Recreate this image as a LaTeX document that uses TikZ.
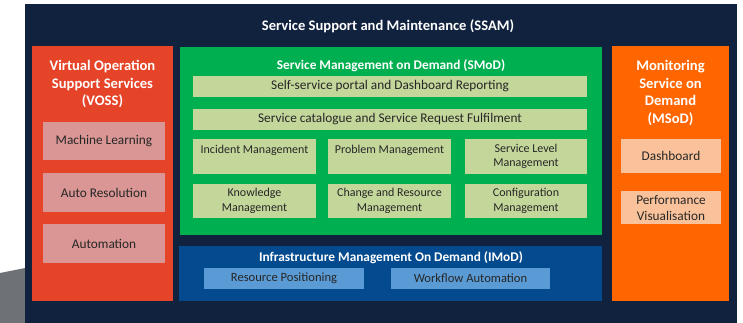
\documentclass[tikz,border=0pt]{standalone}
\usepackage{fontspec}
\setmainfont{Carlito}
\usepackage{xcolor}
\usepackage{tikz}

\definecolor{navy}{HTML}{11223F}
\definecolor{vossred}{HTML}{E64429}
\definecolor{vosspink}{HTML}{D99694}
\definecolor{smodgreen}{HTML}{00B050}
\definecolor{smodlight}{HTML}{C4D79B}
\definecolor{imodblue}{HTML}{044A8F}
\definecolor{imodlight}{HTML}{5B9BD5}
\definecolor{msodorange}{HTML}{FF6600}
\definecolor{msodpeach}{HTML}{F9C29A}
\definecolor{shadowgrey}{HTML}{6E7176}
\definecolor{itemtext}{HTML}{262626}

\begin{document}
\begin{tikzpicture}[x=1pt,y=-1pt,
        panel/.style={rectangle, inner sep=0pt},
        paneltitle/.style={text=white, font=\fontsize{14.6}{17.5}\selectfont\bfseries, align=center},
        subtitle/.style={paneltitle, font=\fontsize{13.3}{16}\selectfont\bfseries},
        item/.style={rectangle, inner sep=0pt, text=itemtext, align=center, font=\fontsize{13.3}{16}\selectfont},
        smallitem/.style={item, font=\fontsize{12}{14.5}\selectfont}]
        \useasboundingbox (0,0) rectangle (743,323);
        \fill[shadowgrey] (0,273) -- (25,268) -- (25,323) -- (0,323) -- cycle;
        % outer frame
        \node[panel, fill=navy, minimum width=712pt, minimum height=319pt] (ssam) at (381,163.5) {};
        \node[paneltitle] (ssamtitle) at (388,26) {Service Support and Maintenance (SSAM)};
        % left column
        \node[panel, fill=vossred, minimum width=141pt, minimum height=255pt] (voss) at (102.5,173.5) {};
        \node[paneltitle] (vosstitle) at (102.5,84) {Virtual Operation\\Support Services\\(VOSS)};
        \node[item, fill=vosspink, minimum width=122pt, minimum height=38pt] (ml) at (104,141) {Machine Learning};
        \node[item, fill=vosspink, minimum width=122pt, minimum height=39pt] (ar) at (104,192.5) {Auto Resolution};
        \node[item, fill=vosspink, minimum width=122pt, minimum height=39pt] (au) at (104,243.5) {Automation};
        % middle column
        \node[panel, fill=smodgreen, minimum width=422pt, minimum height=188pt] (smod) at (391,141) {};
        \node[subtitle] (smodtitle) at (391,66) {Service Management on Demand (SMoD)};
        \node[item, fill=smodlight, minimum width=394pt, minimum height=21pt] (portal) at (390,86.5) {Self-service portal and Dashboard Reporting};
        \node[item, fill=smodlight, minimum width=394pt, minimum height=21pt] (catalogue) at (390,119.5) {Service catalogue and Service Request Fulfilment};
        \node[smallitem, fill=smodlight, minimum width=123pt, minimum height=35pt] (incident) at (254.5,156.5) {Incident Management\\~};
        \node[smallitem, fill=smodlight, minimum width=123pt, minimum height=35pt] (problem) at (389.5,156.5) {Problem Management\\~};
        \node[smallitem, fill=smodlight, minimum width=122pt, minimum height=35pt] (servicelevel) at (526,156.5) {Service Level\\Management};
        \node[smallitem, fill=smodlight, minimum width=123pt, minimum height=34pt] (knowledge) at (254.5,201) {Knowledge\\Management};
        \node[smallitem, fill=smodlight, minimum width=123pt, minimum height=34pt] (change) at (389.5,201) {Change and Resource\\Management};
        \node[smallitem, fill=smodlight, minimum width=122pt, minimum height=34pt] (config) at (526,201) {Configuration\\Management};
        \node[panel, fill=imodblue, minimum width=423pt, minimum height=55pt] (imod) at (390.5,273.5) {};
        \node[subtitle] (imodtitle) at (391,258) {Infrastructure Management On Demand (IMoD)};
        \node[item, font=\fontsize{12.6}{15}\selectfont, fill=imodlight, minimum width=160pt, minimum height=21pt] (resource) at (284,278) {Resource Positioning};
        \node[item, font=\fontsize{12.6}{15}\selectfont, fill=imodlight, minimum width=159pt, minimum height=21pt] (workflow) at (470.5,278) {Workflow Automation};
        % right column
        \node[panel, fill=msodorange, minimum width=117pt, minimum height=255pt] (msod) at (670.5,173.5) {};
        \node[paneltitle] (msodtitle) at (670.5,93) {Monitoring\\Service on\\Demand\\(MSoD)};
        \node[item, fill=msodpeach, minimum width=100pt, minimum height=34pt] (dash) at (671,156) {Dashboard};
        \node[item, fill=msodpeach, minimum width=100pt, minimum height=33pt] (perf) at (671,207.5) {Performance\\Visualisation};
    \end{tikzpicture}
\end{document}
